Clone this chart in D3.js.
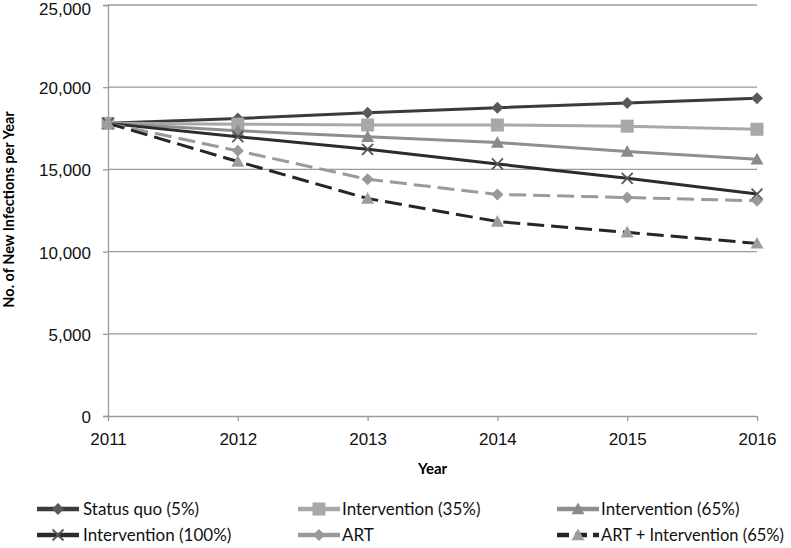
<!DOCTYPE html>
<html lang="en">
<head>
<meta charset="UTF-8">
<title>New Infections per Year</title>
<script src="https://cdn.jsdelivr.net/npm/d3@7"></script>
<style>
    body { margin: 0; padding: 0; background: #fff; }
    svg { display: block; font-family: Lato, "Open Sans", sans-serif; }
</style>
</head>
<body>
<div id="chart"></div>
<script>
    // data
    const years = [2011, 2012, 2013, 2014, 2015, 2016];
    const yTicks = [0, 5000, 10000, 15000, 20000, 25000];

    const statusQuo = [17800, 18100, 18450, 18750, 19040, 19330];
    const interv35 = [17800, 17750, 17700, 17700, 17630, 17440];
    const interv65 = [17800, 17350, 16990, 16630, 16090, 15620];
    const interv100 = [17800, 16990, 16220, 15330, 14460, 13500];
    const art = [17800, 16130, 14400, 13480, 13290, 13090];
    const artInterv = [17800, 15480, 13230, 11830, 11170, 10500];

    const seriesNames = ["Status quo (5%)", "Intervention (35%)", "Intervention (65%)",
        "Intervention (100%)", "ART", "ART + Intervention (65%)"];

    const series = [
        { name: seriesNames[0], values: statusQuo, color: "#3b3b3b", marker: "diamond", markerColor: "#5a5a5a", dash: null },
        { name: seriesNames[1], values: interv35, color: "#a8a8a8", marker: "square", markerColor: "#a8a8a8", dash: null },
        { name: seriesNames[2], values: interv65, color: "#8e8e8e", marker: "triangle", markerColor: "#8a8a8a", dash: null },
        { name: seriesNames[3], values: interv100, color: "#2c2c2c", marker: "x", markerColor: "#555", dash: null },
        { name: seriesNames[4], values: art, color: "#9a9a9a", marker: "diamond", markerColor: "#999", dash: "17,7" },
        { name: seriesNames[5], values: artInterv, color: "#262626", marker: "triangle", markerColor: "#9d9d9d", dash: "17,7" }
    ];

    const width = 791, height = 548;
    const margin = { left: 108, right: 34, top: 5, bottom: 132 };

    const svg = d3.select("#chart").append("svg")
        .attr("width", width)
        .attr("height", height);

    const x = d3.scaleLinear().domain([2011, 2016]).range([margin.left, width - margin.right]);
    const y = d3.scaleLinear().domain([0, 25000]).range([height - margin.bottom, margin.top]);

    // gridlines
    svg.append("g")
        .selectAll("line")
        .data(yTicks.filter(d => d > 0))
        .enter().append("line")
        .attr("x1", x(2011)).attr("x2", x(2016))
        .attr("y1", d => y(d)).attr("y2", d => y(d))
        .attr("stroke", "#9a9a9a").attr("stroke-width", 1.3);

    // y axis
    const yAxis = svg.append("g")
        .attr("transform", `translate(${x(2011)},0)`)
        .call(d3.axisLeft(y).tickValues(yTicks).tickFormat(d3.format(",")).tickSize(5).tickPadding(12));
    yAxis.select(".domain").attr("stroke", "#9a9a9a").attr("stroke-width", 1.3);
    yAxis.selectAll(".tick line").attr("stroke", "#9a9a9a").attr("stroke-width", 1.3);
    yAxis.selectAll("text").attr("font-size", 17).attr("fill", "#111")
        // top label sits right at the edge, nudge it so it isn't clipped
        .attr("dy", d => d === 25000 ? "0.55em" : "0.38em");

    // x axis
    const xAxis = svg.append("g")
        .attr("transform", `translate(0,${y(0)})`)
        .call(d3.axisBottom(x).tickValues(years).tickFormat(d3.format("d")).tickSize(5).tickSizeOuter(0).tickPadding(12));
    xAxis.select(".domain").attr("stroke", "#9a9a9a").attr("stroke-width", 1.3);
    xAxis.selectAll(".tick line").attr("stroke", "#9a9a9a").attr("stroke-width", 1.3);
    xAxis.selectAll("text").attr("font-size", 17).attr("fill", "#111");

    // axis titles
    svg.append("text")
        .attr("x", (x(2011) + x(2016)) / 2)
        .attr("y", 474)
        .attr("text-anchor", "middle")
        .attr("font-size", 15).attr("font-weight", "bold")
        .text("Year");

    svg.append("text")
        .attr("transform", `translate(14,${y(12500) - 1}) rotate(-90)`)
        .attr("text-anchor", "middle")
        .attr("font-size", 14.5).attr("font-weight", "bold")
        .text("No. of New Infections per Year");

    function drawMarker(g, type, cx, cy, color, s) {
        if (type === "diamond") {
            g.append("path")
                .attr("d", `M${cx},${cy - s}L${cx + s},${cy}L${cx},${cy + s}L${cx - s},${cy}Z`)
                .attr("fill", color);
        } else if (type === "square") {
            g.append("rect")
                .attr("x", cx - s).attr("y", cy - s)
                .attr("width", 2 * s).attr("height", 2 * s)
                .attr("fill", color);
        } else if (type === "triangle") {
            g.append("path")
                .attr("d", `M${cx},${cy - s}L${cx + s},${cy + s * 0.8}L${cx - s},${cy + s * 0.8}Z`)
                .attr("fill", color);
        } else if (type === "x") {
            g.append("path")
                .attr("d", `M${cx - s},${cy - s}L${cx + s},${cy + s}M${cx + s},${cy - s}L${cx - s},${cy + s}`)
                .attr("stroke", color).attr("stroke-width", 1.8).attr("fill", "none");
        }
    }

    const line = d3.line()
        .x((d, i) => x(years[i]))
        .y(d => y(d));

    const markerSize = { diamond: 6, square: 6.5, triangle: 6.5, x: 5.5 };

    series.forEach(s => {
        const g = svg.append("g");
        g.append("path")
            .datum(s.values)
            .attr("d", line)
            .attr("fill", "none")
            .attr("stroke", s.color)
            .attr("stroke-width", 3)
            .attr("stroke-dasharray", s.dash);
        s.values.forEach((v, i) => {
            drawMarker(g, s.marker, x(years[i]), y(v), s.markerColor, markerSize[s.marker]);
        });
    });

    // legend
    const legendCols = [37, 298, 557];
    const legendRows = [509, 535];
    const legendRight = 784;
    const legend = svg.append("g");
    series.forEach((s, i) => {
        const lx = legendCols[i % 3];
        const ly = legendRows[Math.floor(i / 3)];
        const g = legend.append("g");
        g.append("line")
            .attr("x1", lx).attr("x2", lx + 42)
            .attr("y1", ly).attr("y2", ly)
            .attr("stroke", s.color).attr("stroke-width", 4.5)
            .attr("stroke-dasharray", i === 5 ? "12,6" : null);
        drawMarker(g, s.marker, lx + 21, ly, s.markerColor, markerSize[s.marker]);
        const tx = i % 3 === 0 ? lx + 46 : lx + 44;
        const t = g.append("text")
            .attr("x", tx)
            .attr("y", ly)
            .attr("dy", "0.36em")
            .attr("font-size", 17)
            .attr("fill", "#111")
            .text(s.name);
        // the original legend font is narrower; squeeze text that would run off the edge
        const len = t.node().getComputedTextLength();
        if (tx + len > legendRight) {
            t.attr("textLength", legendRight - tx).attr("lengthAdjust", "spacingAndGlyphs");
        }
    });
</script>
</body>
</html>
